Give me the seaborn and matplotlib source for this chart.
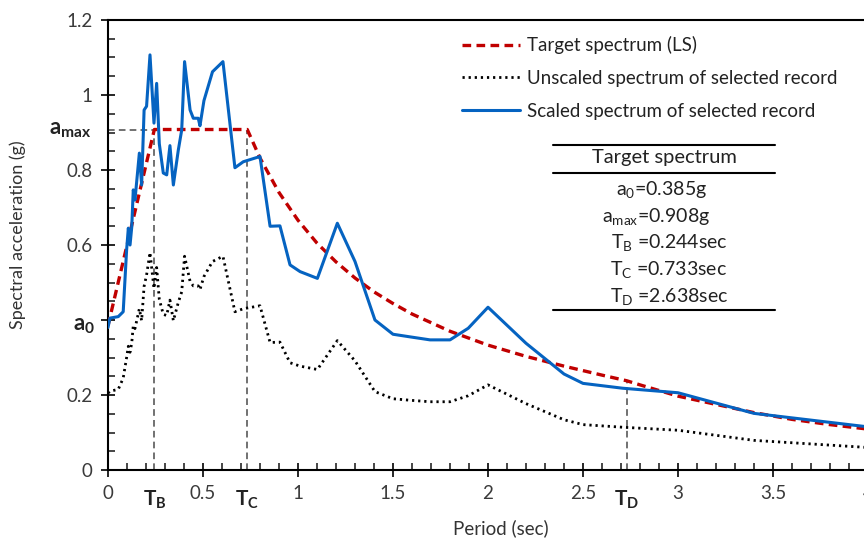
import matplotlib
matplotlib.use("Agg")
import matplotlib.pyplot as plt
from matplotlib.lines import Line2D
import seaborn as sns
import pandas as pd

# ---------------- data ----------------
period_target = [0.0, 0.244, 0.733, 0.8, 0.9, 1.0, 1.1, 1.2, 1.3, 1.4, 1.5, 1.6,
                 1.8, 2.0, 2.2, 2.4, 2.5, 2.6, 2.73, 2.8, 3.0, 3.2, 3.4, 3.6, 3.8, 4.0]
sa_target = [0.385, 0.908, 0.908, 0.832, 0.740, 0.666, 0.605, 0.555, 0.512, 0.475, 0.444, 0.416,
             0.370, 0.333, 0.303, 0.277, 0.265, 0.253, 0.238, 0.227, 0.197, 0.175, 0.153, 0.135, 0.121, 0.109]

period_record = [0.0, 0.01, 0.054, 0.08, 0.098, 0.107, 0.116, 0.125, 0.133, 0.142, 0.165, 0.177,
                 0.19, 0.203, 0.221, 0.242, 0.256, 0.27, 0.291, 0.309, 0.326, 0.344, 0.37, 0.388,
                 0.403, 0.432, 0.449, 0.475, 0.484, 0.505, 0.55, 0.605, 0.668, 0.712, 0.8, 0.853,
                 0.905, 0.958, 1.011, 1.102, 1.207, 1.3, 1.405, 1.5, 1.59, 1.695, 1.8, 1.896,
                 2.0, 2.2, 2.4, 2.5, 2.71, 3.0, 3.4, 4.0]
sa_scaled = [0.380, 0.405, 0.409, 0.422, 0.587, 0.645, 0.600, 0.648, 0.747, 0.720, 0.845, 0.760,
             0.960, 0.970, 1.107, 0.925, 1.031, 0.870, 0.792, 0.787, 0.865, 0.760, 0.853, 0.907,
             1.089, 0.960, 0.938, 0.938, 0.918, 0.985, 1.062, 1.089, 0.806, 0.822, 0.836, 0.650,
             0.651, 0.547, 0.529, 0.511, 0.658, 0.556, 0.400, 0.362, 0.355, 0.347, 0.347, 0.378,
             0.434, 0.338, 0.256, 0.231, 0.218, 0.206, 0.151, 0.115]
sa_unscaled = [0.205, 0.210, 0.215, 0.245, 0.300, 0.330, 0.314, 0.339, 0.385, 0.377, 0.430, 0.398,
               0.490, 0.520, 0.580, 0.484, 0.540, 0.455, 0.415, 0.412, 0.453, 0.398, 0.447, 0.475,
               0.570, 0.503, 0.491, 0.491, 0.481, 0.516, 0.556, 0.570, 0.422, 0.430, 0.438, 0.340,
               0.341, 0.286, 0.277, 0.268, 0.345, 0.291, 0.209, 0.190, 0.186, 0.182, 0.182, 0.198,
               0.227, 0.177, 0.134, 0.121, 0.114, 0.106, 0.079, 0.060]

series_labels = ["Target spectrum (LS)", "Unscaled spectrum of selected record",
                 "Scaled spectrum of selected record"]

a0, amax, TB, TC, TD = 0.385, 0.908, 0.244, 0.733, 2.73
table_title = "Target spectrum"
table_rows = [r"a$_\mathregular{0}$=0.385g", r"a$_\mathregular{max}$=0.908g",
              r"T$_\mathregular{B}$ =0.244sec", r"T$_\mathregular{C}$ =0.733sec",
              r"T$_\mathregular{D}$ =2.638sec"]

x_ticks = [0, 0.5, 1, 1.5, 2, 2.5, 3, 3.5, 4]
x_ticklabels = ["0", "0.5", "1", "1.5", "2", "2.5", "3", "3.5", "4"]
y_ticks = [0, 0.2, 0.4, 0.6, 0.8, 1.0, 1.2]
y_ticklabels = ["0", "0.2", "", "0.6", "0.8", "1", "1.2"]

# ---------------- style ----------------
sns.set_style("ticks")
plt.rcParams["font.family"] = ["Lato", "DejaVu Sans"]
plt.rcParams["mathtext.fontset"] = "custom"
plt.rcParams["mathtext.rm"] = "Lato"
plt.rcParams["mathtext.it"] = "Lato:italic"
plt.rcParams["mathtext.bf"] = "Lato:bold"

W, H = 864, 538
fig = plt.figure(figsize=(W / 100, H / 100), dpi=100)
ax = fig.add_axes([108 / W, 68 / H, 760 / W, 450 / H])

df_t = pd.DataFrame({"T": period_target, "Sa": sa_target})
df_r = pd.DataFrame({"T": period_record, "scaled": sa_scaled, "unscaled": sa_unscaled})

gray = "#595959"
# reference lines
ax.plot([0, TB], [amax, amax], color=gray, lw=1.2, linestyle=(0, (4, 2.5)), zorder=1)
ax.plot([TB, TB], [0, amax], color=gray, lw=1.2, linestyle=(0, (4, 2.5)), zorder=1)
ax.plot([TC, TC], [0, amax], color=gray, lw=1.2, linestyle=(0, (4, 2.5)), zorder=1)
ax.plot([TD, TD], [0, 0.238], color=gray, lw=1.2, linestyle=(0, (4, 2.5)), zorder=1)

sns.lineplot(data=df_r, x="T", y="unscaled", ax=ax, color="black", lw=2.0,
             linestyle=(0, (0.8, 1.4)), estimator=None, sort=False,
             label=series_labels[1], zorder=2)
sns.lineplot(data=df_t, x="T", y="Sa", ax=ax, color="#C00000", lw=2.4,
             linestyle=(0, (2.6, 1.6)), estimator=None, sort=False,
             label=series_labels[0], zorder=3)
sns.lineplot(data=df_r, x="T", y="scaled", ax=ax, color="#0563C1", lw=2.2,
             linestyle="-", estimator=None, sort=False,
             label=series_labels[2], zorder=4)

ax.set_xlim(0, 4)
ax.set_ylim(0, 1.2)
ax.set_xticks(x_ticks)
ax.set_xticklabels(x_ticklabels)
ax.set_yticks(y_ticks)
ax.set_yticklabels(y_ticklabels)
ax.set_xticks([i / 10 for i in range(41)], minor=True)
ax.set_yticks([i / 20 for i in range(25)], minor=True)
ax.tick_params(which="major", direction="inout", length=10, width=1.4,
               labelsize=13.5, labelcolor="#3a3a3a", pad=6)
ax.tick_params(which="minor", direction="in", length=5, width=1.2)
ax.set_xlabel("")
ax.set_ylabel("")
for s in ["left", "bottom", "top"]:
    ax.spines[s].set_linewidth(1.5)
    ax.spines[s].set_color("black")
ax.spines["right"].set_visible(False)

# special labels
ax.text(TB, -0.08, r"T$_\mathregular{B}$", ha="center", va="center",
        fontsize=15, fontweight="bold", color="#222222")
ax.text(TC, -0.08, r"T$_\mathregular{C}$", ha="center", va="center",
        fontsize=15, fontweight="bold", color="#222222")
ax.text(TD, -0.08, r"T$_\mathregular{D}$", ha="center", va="center",
        fontsize=15, fontweight="bold", color="#222222")
fig.text(95 / W, 1 - 325 / H, r"a$_\mathregular{0}$", ha="right", va="center",
         fontsize=16, fontweight="bold", color="#222222")
fig.text(91 / W, 1 - 130 / H, r"a$_\mathregular{max}$", ha="right", va="center",
         fontsize=16, fontweight="bold", color="#222222")

fig.text(18 / W, 1 - 235 / H, "Spectral acceleration (g)", rotation=90,
         ha="center", va="center", fontsize=13, color="#333333")
fig.text(501 / W, 1 - 528 / H, "Period (sec)", ha="center", va="center",
         fontsize=13.5, color="#333333")

# legend
handles, labels = ax.get_legend_handles_labels()
order = [labels.index(l) for l in series_labels]
ax.legend([handles[i] for i in order], [labels[i] for i in order],
          loc="upper left", bbox_to_anchor=(462 / W, 1 - 36 / H),
          bbox_transform=fig.transFigure, frameon=False, fontsize=13.5,
          handlelength=3.1, handletextpad=0.37, labelspacing=0.85,
          borderpad=0, borderaxespad=0, labelcolor="#222222")

# table
for yy in [145, 172.7, 310]:
    fig.add_artist(Line2D([553 / W, 775 / W], [1 - yy / H, 1 - yy / H],
                          transform=fig.transFigure, color="black", lw=1.5))
fig.text(664 / W, 1 - 158 / H, table_title, ha="center", va="center",
         fontsize=14.5, color="#222222")
row_y = [190, 216.7, 242.7, 270, 296.7]
row_x = [662, 656, 669, 669, 669]
for txt, xx, yy in zip(table_rows, row_x, row_y):
    fig.text(xx / W, 1 - yy / H, txt, ha="center", va="center",
             fontsize=14, color="#222222")

fig.savefig("out.png", dpi=100)
